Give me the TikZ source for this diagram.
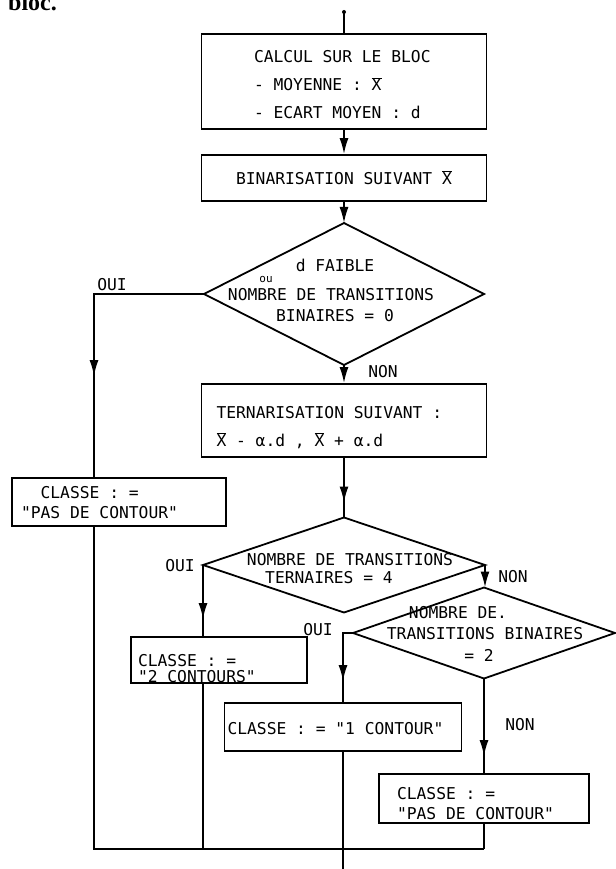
\documentclass[tikz,border=0pt]{standalone}
\usepackage{fontspec}
\setmonofont{DejaVu Sans Mono}
\newfontfamily\serifb{Liberation Serif}
\usepackage{tikz}
\usetikzlibrary{positioning,shapes.geometric,arrows.meta}
\newcommand{\Xbar}{$\overline{\mbox{X}}$}
\newcommand{\typefont}[1]{\ttfamily\fontsize{16.3}{#1}\selectfont\setlength{\spaceskip}{9.8pt}}

\tikzset{
  box/.style={draw, line width=1.8pt, inner ysep=0pt, align=left,
    execute at begin node={\setlength{\spaceskip}{9.8pt}}},
  lines/.style={font=\typefont{#1}},
  test/.style={draw, diamond, line width=1.8pt, inner sep=0pt, outer sep=0pt},
  txt/.style={font=\typefont{20}, inner sep=0pt},
  flow/.style={line width=1.8pt, -{Latex[length=16pt,width=9pt]}},
  link/.style={line width=1.8pt},
  tipat/.style={flow, shorten >=#1}
}

\begin{document}
\begin{tikzpicture}[x=1pt,y=-1pt]
        \useasboundingbox (0,0) rectangle (615,869);
        \node[anchor=base west, inner sep=0pt, font=\serifb\bfseries\fontsize{24}{24}\selectfont] (bloc) at (8,11) {bloc.};

        % Boxes
        \node[box, lines=28, text width=180pt, inner xsep=52.5pt, text height=29pt, text depth=66pt] (b1) at (344,81.5)
            {CALCUL SUR LE BLOC\\- MOYENNE : \Xbar\\- ECART MOYEN : d};
        \node[box, lines=20, align=center, text width=265pt, inner xsep=10pt, text height=29pt, text depth=17pt] (b2) at (344,178)
            {BINARISATION SUIVANT \Xbar};
        \node[box, lines=28, text width=255pt, inner xsep=15pt, text height=34pt, text depth=39pt] (b3) at (344,420.5)
            {TERNARISATION SUIVANT :\\\Xbar{} - α.d , \Xbar{} + α.d};
        \node[box, lines=20, text width=196pt, inner xsep=9pt, text height=20pt, text depth=28pt] (pdc1) at (119,502)
            {~~CLASSE : =\\"PAS DE CONTOUR"};
        \node[box, lines=16, text width=162pt, inner xsep=7pt, text height=29pt, text depth=17pt] (c2) at (219,660)
            {CLASSE : =\\"2 CONTOURS"};
        \node[box, lines=20, text width=231pt, inner xsep=3pt, text height=31pt, text depth=17pt] (c1) at (343,727)
            {CLASSE : = "1 CONTOUR"};
        \node[box, lines=20, text width=174pt, inner xsep=18pt, text height=25pt, text depth=24pt] (pdc2) at (484,798.5)
            {CLASSE : =\\"PAS DE CONTOUR"};

        % Tests
        \node[test, minimum width=280pt, minimum height=142pt] (d1) at (344,294) {};
        \node[test, minimum width=282pt, minimum height=95pt] (d2) at (344,565) {};
        \node[test, minimum width=262pt, minimum height=91pt] (d3) at (484,633) {};

        \node[txt] (d1a) at (335,265) {d FAIBLE};
        \node[txt, font=\ttfamily\fontsize{11}{11}\selectfont] (d1b) at (266,279) {ou};
        \node[txt] (d1c) at (331,295) {NOMBRE DE TRANSITIONS};
        \node[txt] (d1d) at (335,316) {BINAIRES = 0};
        \node[txt] (d2a) at (350,560) {NOMBRE DE TRANSITIONS};
        \node[txt] (d2b) at (329,578) {TERNAIRES = 4};
        \node[txt] (d3a) at (458,613) {NOMBRE DE.};
        \node[txt] (d3b) at (485,634) {TRANSITIONS BINAIRES};
        \node[txt] (d3c) at (479,655) {= 2};

        % Answers
        \node[txt] (oui1) at (112,285) {OUI};
        \node[txt] (non1) at (383,372) {NON};
        \node[txt] (oui2) at (180,566) {OUI};
        \node[txt] (non2) at (513,577) {NON};
        \node[txt] (oui3) at (318,630) {OUI};
        \node[txt] (non3) at (520,725) {NON};

        % Connectors
        \coordinate (top) at (344,12);
        \coordinate (jl) at (94,849);
        \coordinate (jr) at (484,849);
        \coordinate (out) at (343,869);
        \fill (top) circle (2pt);
        \draw[link] (top) -- (b1);
        \draw[flow] (b1) -- (b2);
        \draw[flow] (b2) -- (d1);
        \draw[flow] (d1) -- (b3);
        \draw[link] (b3) -- (d2);
        \draw[tipat=15pt] (b3) -- (d2);
        \draw[link] (d1.west) -| (pdc1.north -| jl);
        \draw[tipat=101pt] (d1.west) -| (pdc1.north -| jl);
        \draw[link] (d2.west) -- (d2.west |- c2.north);
        \draw[tipat=17pt] (d2.west) -- (d2.west |- c2.north);
        \draw[flow] (d2.east) -- (d2.east |- d3.north);
        \draw[link] (d3.west) -- (d3.west -| c1.north) -- (c1.north);
        \draw[tipat=21pt] (d3.west) -- (d3.west -| c1.north) -- (c1.north);
        \draw[link] (d3.south) -- (pdc2.north);
        \draw[tipat=17pt] (d3.south) -- (pdc2.north);

        % Merge
        \draw[link] (pdc1.south -| jl) -- (jl) -- (jr);
        \draw[link] (d2.west |- c2.south) -- (d2.west |- jl);
        \draw[link] (c1.south) -- (out);
        \draw[link] (pdc2.south) -- (jr);
\end{tikzpicture}
\end{document}
